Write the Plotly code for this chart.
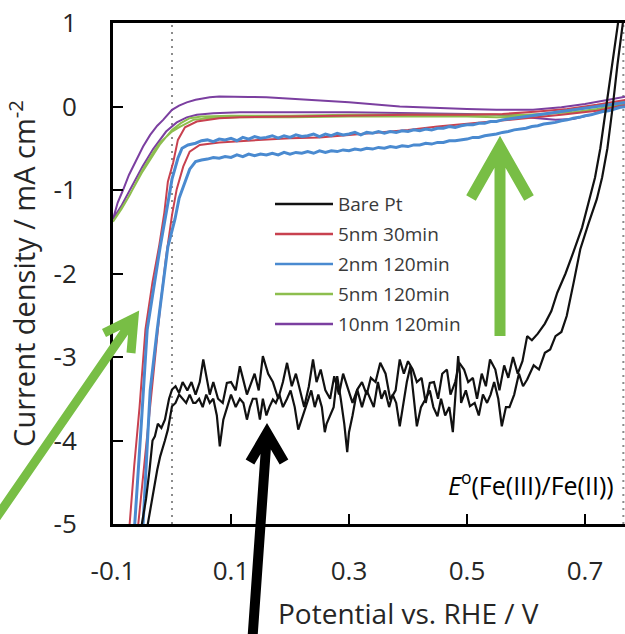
import plotly.graph_objects as go

# ---------------- data ----------------
X_TICKS = [-0.1, 0.1, 0.3, 0.5, 0.7]
X_TICK_TEXT = ["-0.1", "0.1", "0.3", "0.5", "0.7"]
Y_TICKS = [1, 0, -1, -2, -3, -4, -5]
Y_TICK_TEXT = ["1", "0", "-1", "-2", "-3", "-4", "-5"]
E_REF_LINES = [0.0, 0.765]

SERIES_NAMES = ["Bare Pt", "5nm 30min", "2nm 120min", "5nm 120min", "10nm 120min"]
SERIES_COLORS = ["#111111", "#C8414F", "#4A8AD0", "#8DBE4E", "#7B3FA0"]

# Bare Pt, branch A
bare_a_x = [0.758, 0.756, 0.746, 0.737, 0.726, 0.717, 0.708, 0.695, 0.68, 0.667, 0.653, 0.643, 0.632, 0.62,
            0.61, 0.602, 0.594, 0.586, 0.578, 0.57, 0.563, 0.555, 0.548, 0.539, 0.532, 0.525, 0.517, 0.51,
            0.502, 0.495, 0.487, 0.48, 0.472, 0.466, 0.458, 0.451, 0.444, 0.437, 0.43, 0.423, 0.415, 0.408,
            0.4, 0.393, 0.386, 0.379, 0.37, 0.362, 0.353, 0.345, 0.337, 0.33, 0.322, 0.314, 0.306, 0.297,
            0.29, 0.283, 0.275, 0.268, 0.26, 0.252, 0.245, 0.239, 0.232, 0.224, 0.217, 0.21, 0.203, 0.195,
            0.188, 0.18, 0.171, 0.163, 0.154, 0.147, 0.14, 0.133, 0.127, 0.12, 0.115, 0.108, 0.1, 0.093,
            0.086, 0.078, 0.07, 0.064, 0.058, 0.053, 0.047, 0.04, 0.033, 0.026, 0.018, 0.012, 0.006, 0.0,
            -0.005, -0.008, -0.012, -0.018, -0.024, -0.029, -0.033, -0.038, -0.044, -0.051, -0.054]
bare_a_y = [1.1, 1.0, 0.5, 0.0, -0.5, -0.85, -1.11, -1.45, -1.75, -2.0, -2.23, -2.45, -2.6, -2.72,
            -2.8, -2.75, -3.05, -3.2, -3.0, -3.25, -3.1, -3.4, -3.15, -3.03, -3.35, -3.2, -3.5, -3.25,
            -3.3, -3.15, -3.07, -3.3, -3.45, -3.15, -3.2, -3.5, -3.3, -3.31, -3.55, -3.25, -3.3, -3.15,
            -3.05, -3.2, -3.03, -3.4, -3.51, -3.2, -3.07, -3.3, -3.25, -3.45, -3.3, -3.39, -3.55, -3.35,
            -3.2, -3.45, -3.23, -3.5, -3.4, -3.15, -3.3, -3.03, -3.35, -3.6, -3.4, -3.2, -3.35, -3.07,
            -3.3, -3.5, -3.3, -3.2, -2.99, -3.4, -3.2, -3.35, -3.45, -3.25, -3.11, -3.4, -3.3, -3.31,
            -3.55, -3.5, -3.3, -3.45, -3.2, -3.03, -3.3, -3.45, -3.3, -3.4, -3.3, -3.43, -3.35, -3.39,
            -3.5, -3.6, -3.75, -3.85, -3.8, -3.95, -4.0, -4.35, -4.7, -5.0, -5.2]

# Bare Pt, branch B
bare_b_x = [0.766, 0.764, 0.755, 0.747, 0.738, 0.729, 0.72, 0.706, 0.692, 0.681, 0.669, 0.66, 0.65, 0.641,
            0.632, 0.622, 0.613, 0.602, 0.595, 0.588, 0.58, 0.572, 0.566, 0.559, 0.553, 0.546, 0.54, 0.534,
            0.527, 0.52, 0.513, 0.505, 0.498, 0.49, 0.488, 0.485, 0.48, 0.476, 0.47, 0.463, 0.456, 0.45,
            0.443, 0.437, 0.43, 0.422, 0.415, 0.41, 0.404, 0.398, 0.391, 0.386, 0.38, 0.374, 0.368, 0.361,
            0.355, 0.349, 0.342, 0.336, 0.33, 0.322, 0.314, 0.306, 0.3, 0.297, 0.292, 0.286, 0.28, 0.274,
            0.268, 0.262, 0.259, 0.254, 0.248, 0.242, 0.236, 0.229, 0.222, 0.214, 0.208, 0.201, 0.195, 0.188,
            0.182, 0.176, 0.171, 0.165, 0.16, 0.154, 0.149, 0.143, 0.137, 0.132, 0.127, 0.121, 0.115, 0.108,
            0.1, 0.093, 0.087, 0.081, 0.076, 0.07, 0.064, 0.058, 0.052, 0.046, 0.04, 0.036, 0.03, 0.024,
            0.018, 0.012, 0.006, 0.0, -0.004, -0.007, -0.012, -0.016, -0.02, -0.025, -0.03, -0.036, -0.041,
            -0.044]
bare_b_y = [1.1, 1.0, 0.5, 0.0, -0.5, -0.85, -1.11, -1.4, -1.71, -2.1, -2.51, -2.7, -2.75, -2.91,
            -2.95, -3.15, -3.1, -3.27, -3.35, -3.2, -3.45, -3.6, -3.6, -3.83, -3.5, -3.3, -3.45, -3.55,
            -3.45, -3.7, -3.55, -3.59, -3.4, -3.55, -3.2, -2.99, -3.5, -3.9, -3.6, -3.7, -3.5, -3.71,
            -3.6, -3.4, -3.5, -3.6, -3.83, -3.5, -3.11, -3.3, -3.6, -3.83, -3.55, -3.45, -3.6, -3.4,
            -3.5, -3.3, -3.6, -3.5, -3.4, -3.6, -3.39, -3.7, -3.9, -4.14, -3.8, -3.5, -3.23, -3.6,
            -3.7, -3.8, -3.9, -3.6, -3.45, -3.6, -3.4, -3.55, -3.7, -3.87, -3.6, -3.4, -3.5, -3.6,
            -3.45, -3.55, -3.51, -3.6, -3.7, -3.5, -3.75, -3.5, -3.5, -3.6, -3.75, -3.55, -3.5, -3.6,
            -3.45, -3.6, -3.75, -4.07, -3.7, -3.5, -3.55, -3.45, -3.6, -3.5, -3.55, -3.55, -3.45, -3.55,
            -3.5, -3.45, -3.55, -3.59, -3.75, -3.87, -4.0, -4.1, -4.19, -4.35, -4.55, -4.8, -5.0,
            -5.2]

# 5nm 30min (red), one closed cycle
red_x = [-0.074, -0.072, -0.064, -0.055, -0.045, -0.033, -0.022, -0.013, -0.007, 0.002, 0.01, 0.022,
         0.042, 0.08, 0.115, 0.2, 0.3, 0.4, 0.5, 0.56, 0.62, 0.67, 0.72, 0.77,
         0.77, 0.72, 0.66, 0.6, 0.55, 0.5, 0.45, 0.4, 0.35, 0.3, 0.25, 0.2, 0.15, 0.115, 0.08, 0.047,
         0.03, 0.019, 0.008, 0.0, -0.01, -0.02, -0.03, -0.04, -0.05, -0.058, -0.06]
red_y = [-5.2, -5.0, -4.3, -3.6, -2.67, -2.1, -1.68, -1.27, -0.9, -0.67, -0.4, -0.25,
         -0.18, -0.14, -0.13, -0.12, -0.11, -0.1, -0.1, -0.09, -0.06, -0.03, 0.02, 0.08,
         0.02, -0.05, -0.1, -0.14, -0.17, -0.2, -0.24, -0.28, -0.31, -0.34, -0.37, -0.38, -0.4, -0.42,
         -0.43, -0.46, -0.54, -0.72, -0.99, -1.3, -1.8, -2.4, -3.1, -3.8, -4.5, -5.0, -5.2]

# 2nm 120min (blue), one closed cycle
blue_x = [-0.065, -0.063, -0.052, -0.042, -0.02, -0.008, 0.0, 0.01, 0.017, 0.027,
          0.04, 0.05, 0.06, 0.07, 0.08, 0.09, 0.10, 0.11, 0.12, 0.13, 0.14, 0.15, 0.16, 0.17, 0.18,
          0.19, 0.20, 0.21, 0.22, 0.23, 0.24, 0.25, 0.26, 0.27, 0.28, 0.29, 0.30, 0.31, 0.32, 0.33,
          0.34, 0.35, 0.36, 0.37, 0.38, 0.39, 0.40, 0.41, 0.42, 0.43, 0.44, 0.45, 0.46, 0.47, 0.48,
          0.49, 0.50, 0.51, 0.52, 0.53, 0.54, 0.55, 0.56, 0.57, 0.58, 0.59, 0.60, 0.61, 0.62, 0.63,
          0.64, 0.65, 0.66, 0.67, 0.68, 0.69, 0.70, 0.71, 0.72, 0.73, 0.74, 0.75, 0.76, 0.77,
          0.77, 0.76, 0.75, 0.74, 0.73, 0.72, 0.71, 0.70, 0.69, 0.68, 0.67, 0.66, 0.65, 0.64, 0.63,
          0.62, 0.61, 0.60, 0.59, 0.58, 0.57, 0.56, 0.55, 0.54, 0.53, 0.52, 0.51, 0.50, 0.49, 0.48,
          0.47, 0.46, 0.45, 0.44, 0.43, 0.42, 0.41, 0.40, 0.39, 0.38, 0.37, 0.36, 0.35, 0.34, 0.33,
          0.32, 0.31, 0.30, 0.29, 0.28, 0.27, 0.26, 0.25, 0.24, 0.23, 0.22, 0.21, 0.20, 0.19, 0.18,
          0.17, 0.16, 0.15, 0.14, 0.13, 0.12, 0.11, 0.10, 0.09, 0.08, 0.07, 0.06, 0.05, 0.04,
          0.03, 0.022, 0.012, 0.005, -0.007, -0.025, -0.037, -0.049, -0.051]
blue_y = [-5.2, -5.0, -3.8, -2.67, -1.68, -1.2, -0.87, -0.62, -0.5, -0.46,
          -0.44, -0.41, -0.40, -0.42, -0.39, -0.40, -0.38, -0.41, -0.37, -0.39, -0.36, -0.38, -0.37, -0.35, -0.38,
          -0.35, -0.37, -0.34, -0.36, -0.35, -0.33, -0.36, -0.33, -0.35, -0.32, -0.34, -0.33, -0.31, -0.34, -0.31,
          -0.32, -0.30, -0.32, -0.30, -0.31, -0.29, -0.30, -0.28, -0.29, -0.27, -0.28, -0.26, -0.26, -0.24, -0.25,
          -0.23, -0.22, -0.22, -0.20, -0.20, -0.18, -0.18, -0.16, -0.15, -0.14, -0.13, -0.12, -0.11, -0.10, -0.09,
          -0.08, -0.07, -0.06, -0.05, -0.04, -0.03, -0.02, -0.01, 0.0, 0.01, 0.02, 0.03, 0.04, 0.05,
          0.0, -0.01, -0.03, -0.05, -0.06, -0.08, -0.10, -0.11, -0.13, -0.14, -0.16, -0.17, -0.19, -0.20, -0.21,
          -0.23, -0.24, -0.26, -0.27, -0.28, -0.30, -0.31, -0.33, -0.34, -0.35, -0.37, -0.37, -0.39, -0.40, -0.41,
          -0.41, -0.43, -0.43, -0.45, -0.44, -0.46, -0.46, -0.48, -0.47, -0.49, -0.48, -0.50, -0.49, -0.51, -0.50,
          -0.52, -0.51, -0.53, -0.52, -0.54, -0.53, -0.55, -0.53, -0.56, -0.54, -0.56, -0.55, -0.57, -0.55, -0.58,
          -0.56, -0.58, -0.57, -0.59, -0.57, -0.60, -0.58, -0.61, -0.60, -0.62, -0.61, -0.63, -0.64, -0.66,
          -0.75, -0.9, -1.1, -1.35, -1.68, -2.67, -3.4, -5.0, -5.2]

# 5nm 120min (green), one closed cycle
green_x = [-0.1, -0.085, -0.071, -0.05, -0.032, -0.02, 0.0, 0.014, 0.036, 0.06, 0.115, 0.2, 0.3, 0.4,
           0.5, 0.55, 0.6, 0.65, 0.7, 0.74, 0.77,
           0.77, 0.72, 0.68, 0.6, 0.5, 0.4, 0.3, 0.2, 0.1, 0.05, 0.03, 0.015, 0.0, -0.02, -0.05,
           -0.075, -0.1]
green_y = [-1.38, -1.22, -1.05, -0.76, -0.55, -0.43, -0.3, -0.24, -0.16, -0.14, -0.13, -0.13, -0.12, -0.12,
           -0.12, -0.13, -0.12, -0.08, -0.02, 0.03, 0.07,
           0.04, -0.03, -0.07, -0.1, -0.1, -0.1, -0.1, -0.11, -0.11, -0.12, -0.14, -0.2, -0.28, -0.45, -0.78,
           -1.1, -1.38]

# 10nm 120min (purple), one closed cycle
purple_x = [-0.1, -0.092, -0.083, -0.073, -0.061, -0.049, -0.037, -0.025, -0.015, -0.008, 0.0, 0.012,
            0.025, 0.04, 0.055, 0.064, 0.08, 0.1, 0.13, 0.16, 0.2, 0.25, 0.3, 0.386, 0.45, 0.5, 0.55,
            0.612, 0.66, 0.7, 0.74, 0.77,
            0.77, 0.74, 0.71, 0.68, 0.65, 0.6, 0.55, 0.5, 0.4, 0.3, 0.2, 0.115, 0.07, 0.042, 0.025,
            0.008, -0.01, -0.032, -0.05, -0.071, -0.085, -0.1]
purple_y = [-1.35, -1.15, -1.0, -0.82, -0.65, -0.48, -0.34, -0.23, -0.16, -0.1, -0.04, 0.01,
            0.05, 0.08, 0.1, 0.11, 0.12, 0.12, 0.115, 0.11, 0.095, 0.07, 0.05, 0.0, -0.02, -0.03, -0.04,
            -0.04, -0.01, 0.03, 0.08, 0.12,
            0.05, -0.02, -0.1, -0.15, -0.16, -0.13, -0.1, -0.09, -0.08, -0.07, -0.07, -0.07, -0.08, -0.1, -0.13,
            -0.19, -0.3, -0.51, -0.72, -1.0, -1.18, -1.35]

# ---------------- layout geometry ----------------
W, H = 625, 634
ML, MR, MT, MB = 113, 0, 23, 110
PW, PH = W - ML - MR, H - MT - MB
X_MIN = -0.1
X_MAX = X_MIN + PW / 590.0
FONT = "'Open Sans', Lato, sans-serif"
TXT = "#262626"
GREEN = "#78BE45"


def pxx(x):
    return (x - ML) / PW


def pxy(y):
    return (MT + PH - y) / PH


fig = go.Figure()

curves = [
    (purple_x, purple_y, SERIES_COLORS[4], 2.0),
    (green_x, green_y, SERIES_COLORS[3], 2.0),
    (red_x, red_y, SERIES_COLORS[1], 2.0),
    (blue_x, blue_y, SERIES_COLORS[2], 3.0),
    (bare_a_x, bare_a_y, SERIES_COLORS[0], 2.2),
    (bare_b_x, bare_b_y, SERIES_COLORS[0], 2.2),
]
for cx, cy, col, w in curves:
    fig.add_trace(go.Scatter(x=cx, y=cy, mode="lines", line=dict(color=col, width=w),
                             showlegend=False, hoverinfo="skip"))

shapes = []
for xv in E_REF_LINES:
    shapes.append(dict(type="line", xref="x", yref="paper", x0=xv, x1=xv, y0=0, y1=1,
                       line=dict(color="#8c8c8c", width=2, dash="2px,5px"), layer="below"))

# manual legend
annotations = []
legend_y = [204, 234, 264, 294, 324]
for name, col, ly in zip(SERIES_NAMES, SERIES_COLORS, legend_y):
    shapes.append(dict(type="line", xref="paper", yref="paper", x0=pxx(275), x1=pxx(333),
                       y0=pxy(ly), y1=pxy(ly), line=dict(color=col, width=2.5)))
    annotations.append(dict(x=pxx(336), y=pxy(ly), xref="paper", yref="paper", text=name,
                            showarrow=False, xanchor="left", yanchor="middle",
                            font=dict(family=FONT, size=19, color="#3a3a3a")))


def arrow_path(tail, tip, arm1, arm2):
    return ("M{},{} L{},{} M{},{} L{},{} L{},{}".format(
        pxx(tail[0]), pxy(tail[1]), pxx(tip[0]), pxy(tip[1]),
        pxx(arm1[0]), pxy(arm1[1]), pxx(tip[0]), pxy(tip[1]), pxx(arm2[0]), pxy(arm2[1])))


shapes.append(dict(type="path", xref="paper", yref="paper",
                   path=arrow_path((-8, 524), (134, 318), (104, 333), (131, 353)),
                   line=dict(color=GREEN, width=9)))
shapes.append(dict(type="path", xref="paper", yref="paper",
                   path=arrow_path((500, 336), (500, 147), (471, 198), (529, 198)),
                   line=dict(color=GREEN, width=11)))
shapes.append(dict(type="path", xref="paper", yref="paper",
                   path=arrow_path((252, 645), (267, 433), (250, 462), (284, 462)),
                   line=dict(color="#000000", width=10)))

annotations.append(dict(x=pxx(616), y=pxy(483), xref="paper", yref="paper",
                        text="<i>E</i><sup>o</sup>(Fe(III)/Fe(II))", showarrow=False,
                        xanchor="right", yanchor="middle",
                        font=dict(family=FONT, size=25, color="#000000")))

# x-axis title (centred where the reference places it)
annotations.append(dict(x=pxx(408), y=pxy(613), xref="paper", yref="paper",
                        text="Potential vs. RHE / V", showarrow=False,
                        xanchor="center", yanchor="middle",
                        font=dict(family=FONT, size=28, color=TXT)))

axis_common = dict(showgrid=False, zeroline=False, showline=True, linecolor="#000000", linewidth=3,
                   ticks="inside", ticklen=10, tickwidth=2, tickcolor="#000000",
                   tickfont=dict(family=FONT, size=26, color=TXT))

fig.update_layout(
    width=W, height=H,
    margin=dict(l=ML, r=MR, t=MT, b=MB),
    paper_bgcolor="white", plot_bgcolor="white",
    font=dict(family=FONT, color=TXT),
    xaxis=dict(range=[X_MIN, X_MAX], tickvals=X_TICKS, ticktext=X_TICK_TEXT, mirror=True,
               ticklabelstandoff=22, **axis_common),
    yaxis=dict(range=[-5, 1], tickvals=Y_TICKS, ticktext=Y_TICK_TEXT, mirror=False,
               ticklabelstandoff=28,
               title=dict(text="Current density / mA cm<sup>-2</sup>",
                          font=dict(family=FONT, size=29, color=TXT), standoff=10),
               **axis_common),
    shapes=shapes,
    annotations=annotations,
    showlegend=False,
)

fig.write_html("out.html")
